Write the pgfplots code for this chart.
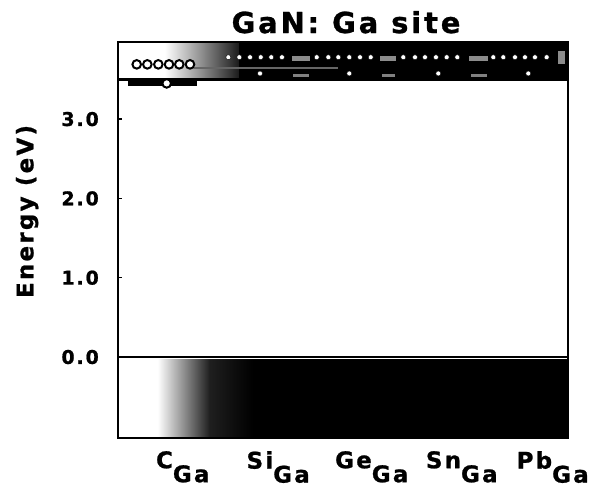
\documentclass[border=0pt]{standalone}
\usepackage{pgfplots}
\pgfplotsset{compat=1.18}
\usepackage{fontspec}
\setmainfont{DejaVu Sans}
\newfontfamily\lsfont[LetterSpace=10, FakeBold=1]{DejaVu Sans Bold}
\newcommand{\lbl}[1]{#1\raisebox{-14bp}{Ga}}
\begin{document}
\begin{tikzpicture}
\begin{axis}[
  scale only axis,
  width=450bp, height=396bp,
  xmin=0, xmax=5, ymin=-1.021, ymax=3.972,
  axis on top,
  axis line style={line width=2.4bp},
  ytick={0,1,2,3}, yticklabels={0.0,1.0,2.0,3.0},
  ytick pos=left, tick align=inside,
  major tick length=4bp,
  tick style={line width=1.5bp, black},
  yticklabel style={font=\lsfont\fontsize{19}{21}\selectfont, anchor=east, inner sep=0pt, xshift=-19bp},
  xtick={0.72,1.78,2.82,3.82,4.83},
  xticklabels={\lbl{C},\lbl{Si},\lbl{Ge},\lbl{Sn},\lbl{Pb}},
  xtick style={draw=none},
  xticklabel style={font=\lsfont\fontsize{23}{25}\selectfont, anchor=north, inner sep=0pt, yshift=-13bp},
  ylabel={Energy (eV)},
  ylabel style={font=\lsfont\fontsize{23}{25}\selectfont, at={(axis description cs:-0.202,0.572)}, anchor=center},
  title={GaN: Ga site},
  title style={font=\lsfont\fontsize{29}{32}\selectfont, at={(axis description cs:0.5,1)}, anchor=base, yshift=3bp, xshift=3bp},
]
% valence band
\addplot[draw=none, left color=white, right color=black!88] coordinates {(0.44,-1.021) (1.02,-1.021) (1.02,-0.03) (0.44,-0.03)} -- cycle;
\addplot[draw=none, left color=black!88, right color=black] coordinates {(1.02,-1.021) (1.5,-1.021) (1.5,-0.03) (1.02,-0.03)} -- cycle;
\addplot[draw=none, fill=black] coordinates {(1.5,-1.021) (5,-1.021) (5,-0.03) (1.5,-0.03)} -- cycle;
% conduction band
\addplot[draw=none, left color=white, right color=black!90] coordinates {(0.52,3.50) (1.35,3.50) (1.35,3.972) (0.52,3.972)} -- cycle;
\addplot[draw=none, fill=black] coordinates {(1.35,3.50) (5,3.50) (5,3.972) (1.35,3.972)} -- cycle;
% light patches in conduction band
\addplot[draw=none, fill=black!45] coordinates {(1.93,3.73) (2.13,3.73) (2.13,3.80) (1.93,3.80)} -- cycle;
\addplot[draw=none, fill=black!50] coordinates {(1.95,3.53) (2.12,3.53) (2.12,3.57) (1.95,3.57)} -- cycle;
\addplot[draw=none, fill=black!45] coordinates {(2.91,3.73) (3.09,3.73) (3.09,3.80) (2.91,3.80)} -- cycle;
\addplot[draw=none, fill=black!50] coordinates {(2.93,3.53) (3.08,3.53) (3.08,3.57) (2.93,3.57)} -- cycle;
\addplot[draw=none, fill=black!45] coordinates {(3.90,3.73) (4.11,3.73) (4.11,3.80) (3.90,3.80)} -- cycle;
\addplot[draw=none, fill=black!50] coordinates {(3.92,3.53) (4.10,3.53) (4.10,3.57) (3.92,3.57)} -- cycle;
\addplot[draw=none, fill=black!45] coordinates {(4.89,3.70) (4.97,3.70) (4.97,3.86) (4.89,3.86)} -- cycle;
\addplot[black!60, line width=1.5bp] coordinates {(0.85,3.645) (2.45,3.645)};
% band edges
\addplot[black, line width=2.5bp] coordinates {(0,0) (5,0)};
\addplot[black, line width=3bp] coordinates {(0,3.50) (5,3.50)};
% C_Ga level bar
\addplot[black, line width=5bp] coordinates {(0.111,3.45) (0.878,3.45)};
% C_Ga open circles
\addplot[only marks, mark=*, mark size=4.3bp, mark options={fill=white, draw=black, line width=2bp}] coordinates {
(0.208,3.69) (0.326,3.69) (0.448,3.69) (0.567,3.69) (0.681,3.69) (0.800,3.69) (0.541,3.45)};
% resonant levels (white dots)
\addplot[only marks, mark=*, mark size=2.5bp, mark options={fill=white, draw=none}] coordinates {
(1.226,3.78) (1.348,3.78) (1.467,3.78) (1.586,3.78) (1.703,3.78) (1.822,3.78)
(2.208,3.78) (2.337,3.78) (2.448,3.78) (2.570,3.78) (2.689,3.78) (2.808,3.78)
(3.170,3.78) (3.300,3.78) (3.411,3.78) (3.533,3.78) (3.652,3.78) (3.770,3.78)
(4.170,3.78) (4.281,3.78) (4.411,3.78) (4.522,3.78) (4.633,3.78) (4.763,3.78)};
\addplot[only marks, mark=*, mark size=2.5bp, mark options={fill=white, draw=none}] coordinates {
(1.578,3.575) (2.570,3.575) (3.559,3.575) (4.559,3.575)};
\coordinate (BL) at (rel axis cs:0,0);
\end{axis}
\pgfresetboundingbox
\useasboundingbox ([shift={(-118bp,-49bp)}]BL) rectangle ++(593bp,487bp);
\end{tikzpicture}
\end{document}
